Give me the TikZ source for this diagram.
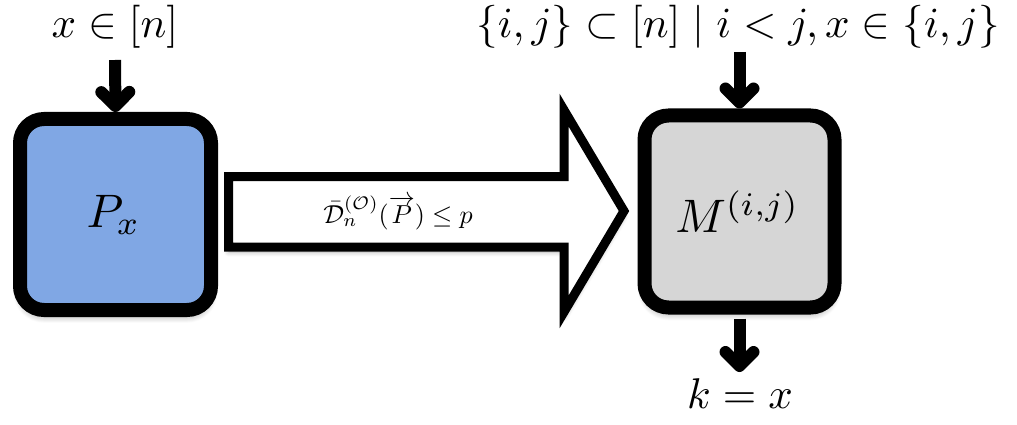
\documentclass[tikz,border=0pt]{standalone}
\usepackage{amsmath,amssymb}
\usepackage{graphicx}
\usetikzlibrary{arrows.meta,shadows.blur}
\definecolor{pblue}{RGB}{128,167,228}
\definecolor{mgray}{RGB}{214,214,214}
\newcommand{\bigtxt}[1]{\scalebox{4.3}{#1}}
\newcommand{\hugetxt}[1]{\scalebox{4.7}{#1}}
\newcommand{\smalltxt}[1]{\scalebox{2.6}{#1}}
\tikzset{
  box/.style={draw=black, line width=14pt, rounded corners=24pt,
    minimum width=191pt, minimum height=191pt, inner sep=0pt,
    blur shadow={shadow blur steps=10, shadow xshift=0pt, shadow yshift=-6pt, shadow opacity=40, shadow blur radius=7pt}},
  flowarrow/.style={line width=12pt,
    -{Straight Barb[length=14pt,width=28pt,line cap=round,line join=round]}},
  blockarrow/.style={draw=black, fill=white, line width=9pt, line join=miter, miter limit=20,
    blur shadow={shadow blur steps=8, shadow xshift=0pt, shadow yshift=-5pt, shadow opacity=30, shadow blur radius=5pt}},
}
\begin{document}
\begin{tikzpicture}[x=1pt,y=-1pt]
\useasboundingbox (0,0) rectangle (1017,425);
% block arrow
\draw[blockarrow] (228.5,176.5) -- (564,176.5) -- (564,110) -- (624,211) -- (564,312) -- (564,247) -- (228.5,247) -- cycle;
\node (lab) at (398,213) {\smalltxt{$\bar{\mathcal{D}}_n^{(\mathcal{O})}(\overrightarrow{P}) \le p$}};
% boxes
\node[box, fill=pblue] (P) at (115.5,214.5) {};
\node (Plab) at ([xshift=-2pt]P.center) {\hugetxt{$P_x$}};
\node[box, fill=mgray, minimum width=190pt, minimum height=192pt] (M) at (739.5,211.5) {};
\node (Mlab) at ([xshift=-2pt]M.center) {\hugetxt{$M^{(i,j)}$}};
% texts
\node (xin) at (115,27) {\bigtxt{$x \in [n]$}};
\node (set) at (738,27) {\bigtxt{$\{i,j\} \subset [n] \mid i < j, x \in \{i,j\}$}};
\node (kx) at (740,394) {\bigtxt{$k = x$}};
% small arrows
\coordinate (a1) at (115,60);
\coordinate (a2) at (739.5,52);
\coordinate (a3) at (739.5,372);
\draw[flowarrow] (a1) -- (P.north);
\draw[flowarrow] (a2) -- (M.north);
\draw[flowarrow] ([yshift=-4pt]M.south) -- (a3);
\end{tikzpicture}
\end{document}
